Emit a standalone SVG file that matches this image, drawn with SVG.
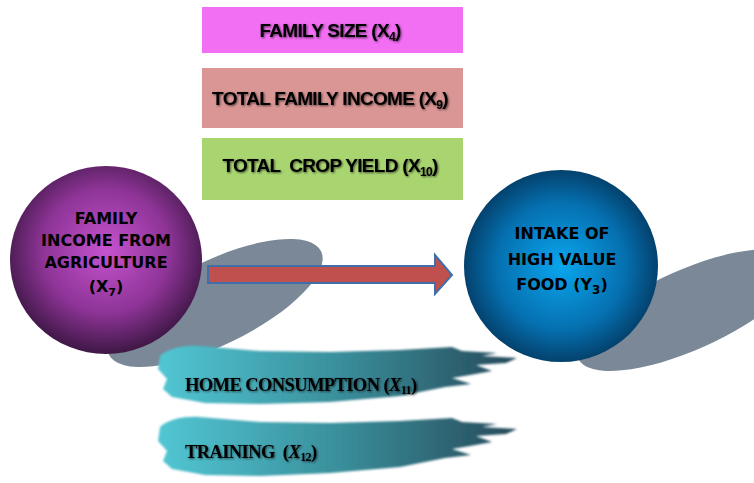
<svg xmlns="http://www.w3.org/2000/svg" width="754" height="483" viewBox="0 0 754 483">
<defs>
<radialGradient id="gPurple" cx="0.5" cy="0.45" r="0.55">
<stop offset="0" stop-color="#c653cf"/>
<stop offset="0.6" stop-color="#8e3497"/>
<stop offset="1" stop-color="#3e1745"/>
</radialGradient>
<radialGradient id="gBlue" cx="0.5" cy="0.5" r="0.55">
<stop offset="0" stop-color="#0aa6ee"/>
<stop offset="0.6" stop-color="#0570b0"/>
<stop offset="1" stop-color="#03345a"/>
</radialGradient>
<linearGradient id="gBrush" x1="0" y1="0" x2="1" y2="0">
<stop offset="0" stop-color="#52c6d3"/>
<stop offset="0.5" stop-color="#3a8f9c"/>
<stop offset="1" stop-color="#274a5a"/>
</linearGradient>
<filter id="ts" x="-10%" y="-30%" width="120%" height="160%">
<feGaussianBlur in="SourceAlpha" stdDeviation="1"/>
<feOffset dx="1" dy="1" result="b"/>
<feComponentTransfer><feFuncA type="linear" slope="0.6"/></feComponentTransfer>
<feMerge><feMergeNode/><feMergeNode in="SourceGraphic"/></feMerge>
</filter>
<filter id="soft"><feGaussianBlur stdDeviation="0.8"/></filter>
</defs>
<style>
.box text, .ball text { font-weight: bold; fill: #000; text-anchor: middle; }
.box text { font-family: "Liberation Sans", Arial, sans-serif; font-size: 19px; letter-spacing: -0.7px; }
.ball text { font-family: "DejaVu Sans", Verdana, sans-serif; font-size: 16px; }
.brush text { font-family: "Liberation Serif", "Times New Roman", serif; font-weight: bold; font-size: 18.5px; fill: #000; letter-spacing: -0.6px; }
.shadow { fill: #7a8898; }
</style>

<g id="shadows">
<ellipse class="shadow" cx="215" cy="303" rx="118" ry="42" transform="rotate(-26 215 303)"/>
<ellipse class="shadow" cx="688" cy="310" rx="120" ry="40" transform="rotate(-24 688 310)"/>
</g>

<g id="box-family-size" class="box">
<rect x="202" y="7" width="261" height="46" fill="#f26ef2"/>
<text x="330" y="37" filter="url(#ts)">FAMILY SIZE (X<tspan font-size="12" dy="4">4</tspan><tspan dy="-4">)</tspan></text>
</g>
<g id="box-total-family-income" class="box">
<rect x="202" y="68" width="261" height="60" fill="#d99694"/>
<text x="330" y="105" filter="url(#ts)">TOTAL FAMILY INCOME (X<tspan font-size="12" dy="4">9</tspan><tspan dy="-4">)</tspan></text>
</g>
<g id="box-total-crop-yield" class="box">
<rect x="202" y="138" width="261" height="62" fill="#a9d571"/>
<text x="330" y="172" filter="url(#ts)" xml:space="preserve">TOTAL  CROP YIELD (X<tspan font-size="12" dy="4">10</tspan><tspan dy="-4">)</tspan></text>
</g>

<g id="node-family-income-agriculture" class="ball">
<ellipse cx="106" cy="260" rx="96" ry="94" fill="url(#gPurple)"/>
<text x="106" y="224">FAMILY</text>
<text x="106" y="246">INCOME FROM</text>
<text x="106" y="268">AGRICULTURE</text>
<text x="106" y="292">(X<tspan font-size="11" dy="4">7</tspan><tspan dy="-4">)</tspan></text>
</g>

<g id="node-intake-high-value-food" class="ball">
<ellipse cx="561" cy="266" rx="97" ry="96" fill="url(#gBlue)"/>
<text x="562" y="239" font-size="17">INTAKE OF</text>
<text x="562" y="265" font-size="17">HIGH VALUE</text>
<text x="562" y="290" font-size="17">FOOD (Y<tspan font-size="12" dy="4">3</tspan><tspan dy="-4">)</tspan></text>
</g>

<g id="connectors">
<path d="M208,266 L435,266 L435,255 L452,275 L435,294 L435,283 L208,283 Z" fill="#c0504d" stroke="#3f6fa8" stroke-width="2" stroke-linejoin="miter"/>
</g>

<g id="brush-home-consumption" class="brush">
<path filter="url(#soft)" fill="url(#gBrush)" d="M160,356 C168,348 185,345 200,346 L260,351 L330,352 L400,350 L452,347 L462,351 L497,353 L482,356 L517,358 L506,363 L476,365 L492,371 L470,375 L452,378 L471,384 L445,387 L400,396 L330,402 L260,404 L205,403 L172,397 L163,389 L167,379 L158,369 Z"/>
<text x="185" y="391" filter="url(#ts)">HOME CONSUMPTION (<tspan font-style="italic">X</tspan><tspan font-size="12" dy="3">11</tspan><tspan dy="-3">)</tspan></text>
</g>

<g id="brush-training" class="brush">
<path filter="url(#soft)" fill="url(#gBrush)" d="M160,427 C168,419 185,416 200,417 L260,422 L330,423 L400,421 L452,418 L462,422 L497,424 L482,427 L517,429 L506,434 L476,436 L492,442 L470,446 L452,449 L471,455 L445,458 L400,467 L330,473 L260,476 L205,475 L172,469 L163,461 L167,451 L158,441 Z"/>
<text x="185" y="458" xml:space="preserve" filter="url(#ts)">TRAINING  (<tspan font-style="italic">X</tspan><tspan font-size="12" dy="3">12</tspan><tspan dy="-3">)</tspan></text>
</g>
</svg>
